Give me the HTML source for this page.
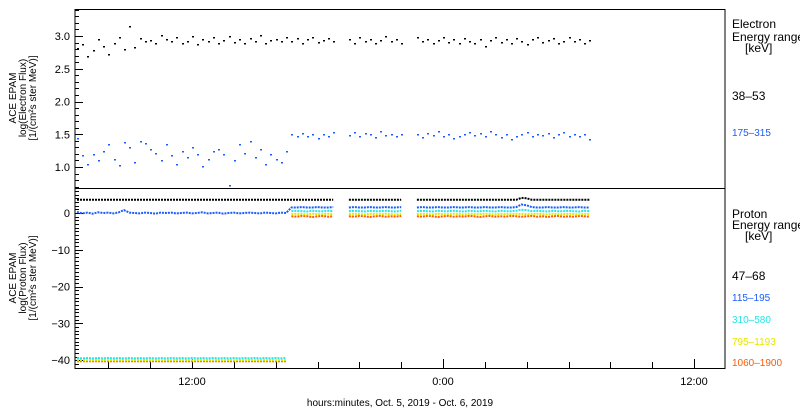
<!DOCTYPE html>
<html><head><meta charset="utf-8"><style>
body{margin:0;background:#fff;}
svg{display:block;font-family:"Liberation Sans",sans-serif;}
</style></head><body>
<svg id="chart" width="800" height="410" viewBox="0 0 800 410" xmlns="http://www.w3.org/2000/svg">
<rect x="0" y="0" width="800" height="410" fill="#fff"/>
<g id="axes"></g>
<g id="marks"></g>
<g font-size="10" text-anchor="middle">
<text transform="translate(16,98) rotate(-90)">ACE EPAM</text>
<text transform="translate(26,98) rotate(-90)">log(Electron Flux)</text>
<text transform="translate(36,98) rotate(-90)">[1/(cm²s ster MeV)]</text>
</g>
<g font-size="10" text-anchor="middle">
<text transform="translate(16,278) rotate(-90)">ACE EPAM</text>
<text transform="translate(26,278) rotate(-90)">log(Proton Flux)</text>
<text transform="translate(36,278) rotate(-90)">[1/(cm²s ster MeV)]</text>
</g>
<g font-size="12">
<text x="732" y="28">Electron</text>
<text x="732" y="41">Energy range</text>
<text x="745" y="52">[keV]</text>
<text x="732" y="100">38–53</text>
<text x="732" y="136" font-size="10" fill="#1a5cff">175–315</text>
</g>
<g font-size="12">
<text x="732" y="218">Proton</text>
<text x="732" y="229">Energy range</text>
<text x="745" y="240">[keV]</text>
<text x="732" y="280">47–68</text>
<text x="732" y="301" font-size="10" fill="#1a5cff">115–195</text>
<text x="732" y="323" font-size="10" fill="#22e6e6">310–580</text>
<text x="732" y="345" font-size="10" fill="#e6e600">795–1193</text>
<text x="732" y="366" font-size="10" fill="#ff5a00">1060–1900</text>
</g>
<text x="400" y="406" font-size="10" text-anchor="middle">hours:minutes, Oct.  5, 2019 - Oct.  6, 2019</text>
</svg>
<script>
const startHour = 6.5, stepHour = 0.25;
const xTickHours = [8,10,12,14,16,18,20,22,24,26,28,30,32,34,36];
const xTickLabels = [{h:12,l:"12:00"},{h:24,l:"0:00"},{h:36,l:"12:00"}];
const elecTicks = [1.0,1.5,2.0,2.5,3.0];
const protTicks = [0,-10,-20,-30,-40];
const elec38 = [
2.82,2.88,2.70,2.78,2.95,2.85,2.72,2.90,2.98,2.80,
3.15,2.83,2.97,2.92,2.94,2.90,3.01,2.95,2.92,2.98,
2.90,2.93,3.00,2.88,2.95,2.92,2.98,2.90,2.94,3.00,
2.91,2.95,2.89,2.97,2.93,3.01,2.90,2.94,2.96,2.92,
2.99,2.93,2.97,2.90,2.95,2.99,2.91,2.94,2.97,2.92,
null,null,2.95,2.90,2.98,2.93,2.96,2.89,2.94,3.00,
2.92,2.95,2.90,null,null,2.99,2.93,2.96,2.90,2.94,
2.98,2.91,2.95,2.89,2.97,2.93,2.90,2.96,2.84,2.94,
2.98,2.91,2.95,2.90,2.97,2.92,2.88,2.95,2.99,2.91,
2.94,2.97,2.90,2.93,2.98,2.92,2.95,2.90,2.94];
const elec175 = [
1.45,1.18,1.05,1.20,1.10,1.25,1.35,1.12,1.03,1.38,
1.30,1.08,1.40,1.36,1.28,1.22,1.10,1.35,1.18,1.05,
1.25,1.15,1.30,1.20,1.02,1.12,1.24,1.28,1.20,0.72,
1.10,1.35,1.22,1.40,1.15,1.28,1.05,1.20,1.12,1.08,
1.25,1.50,1.48,1.52,1.47,1.50,1.45,1.51,1.48,1.53,
null,null,1.49,1.54,1.47,1.52,1.50,1.46,1.55,1.49,
1.51,1.47,1.50,null,null,1.50,1.46,1.52,1.49,1.55,
1.48,1.51,1.44,1.47,1.50,1.53,1.49,1.52,1.48,1.55,
1.50,1.46,1.51,1.42,1.48,1.50,1.53,1.47,1.51,1.49,
1.52,1.46,1.50,1.53,1.48,1.51,1.47,1.50,1.43];
const prot47 = [
3.6,3.6,3.6,3.6,3.6,3.6,3.6,3.6,3.6,3.6,
3.6,3.6,3.6,3.6,3.6,3.6,3.6,3.6,3.6,3.6,
3.6,3.6,3.6,3.6,3.6,3.6,3.6,3.6,3.6,3.6,
3.6,3.6,3.6,3.6,3.6,3.6,3.6,3.6,3.6,3.6,
3.6,3.6,3.6,3.6,3.6,3.6,3.6,3.6,3.6,3.6,
null,null,3.6,3.6,3.6,3.6,3.6,3.6,3.6,3.6,
3.6,3.6,3.6,null,null,3.6,3.6,3.6,3.6,3.6,
3.6,3.6,3.6,3.6,3.6,3.6,3.6,3.6,3.6,3.6,
3.6,3.6,3.6,3.6,3.6,4.1,4.0,3.6,3.6,3.6,
3.6,3.6,3.6,3.6,3.6,3.6,3.6,3.6,3.6];
const prot115 = [
0.3,-0.1,0.1,-0.2,0.2,0.0,0.1,-0.1,0.2,0.8,
0.1,0.0,-0.1,0.1,0.0,-0.2,0.1,0.0,0.1,-0.1,
0.0,0.1,-0.1,0.0,0.2,-0.1,0.0,0.1,-0.2,0.0,
0.1,-0.1,0.0,0.1,0.0,-0.1,0.1,0.0,-0.1,0.1,
0.0,1.5,1.5,1.6,1.5,1.5,1.6,1.5,1.5,1.6,
null,null,1.5,1.6,1.5,1.5,1.6,1.5,1.5,1.6,
1.5,1.5,1.6,null,null,1.5,1.6,1.5,1.5,1.6,
1.5,1.5,1.6,1.5,1.5,1.6,1.5,1.5,1.6,1.5,
1.5,1.6,1.5,1.5,1.6,2.3,2.1,1.6,1.5,1.5,
1.6,1.5,1.5,1.6,1.5,1.5,1.6,1.5,1.5];
const prot310 = [
-39.4,-39.5,-39.4,-39.5,-39.4,-39.5,-39.4,-39.5,-39.4,-39.5,
-39.4,-39.5,-39.4,-39.5,-39.4,-39.5,-39.4,-39.5,-39.4,-39.5,
-39.4,-39.5,-39.4,-39.5,-39.4,-39.5,-39.4,-39.5,-39.4,-39.5,
-39.4,-39.5,-39.4,-39.5,-39.4,-39.5,-39.4,-39.5,-39.4,-39.5,
-39.4,0.5,0.6,0.5,0.4,0.6,0.5,0.5,0.6,0.5,
null,null,0.5,0.6,0.5,0.4,0.6,0.5,0.5,0.6,
0.5,0.4,0.6,null,null,0.5,0.6,0.5,0.4,0.6,
0.5,0.5,0.6,0.5,0.4,0.6,0.5,0.5,0.6,0.5,
0.4,0.6,0.5,0.5,0.6,0.9,0.8,0.5,0.6,0.5,
0.4,0.6,0.5,0.5,0.6,0.5,0.4,0.6,0.5];
const prot795 = [
-40.0,-40.0,-40.0,-40.0,-40.0,-40.0,-40.0,-40.0,-40.0,-40.0,
-40.0,-40.0,-40.0,-40.0,-40.0,-40.0,-40.0,-40.0,-40.0,-40.0,
-40.0,-40.0,-40.0,-40.0,-40.0,-40.0,-40.0,-40.0,-40.0,-40.0,
-40.0,-40.0,-40.0,-40.0,-40.0,-40.0,-40.0,-40.0,-40.0,-40.0,
-40.0,-0.3,-0.2,-0.3,-0.4,-0.2,-0.3,-0.3,-0.2,-0.3,
null,null,-0.3,-0.2,-0.3,-0.4,-0.2,-0.3,-0.3,-0.2,
-0.3,-0.4,-0.2,null,null,-0.3,-0.2,-0.3,-0.4,-0.2,
-0.3,-0.3,-0.2,-0.3,-0.4,-0.2,-0.3,-0.3,-0.2,-0.3,
-0.4,-0.2,-0.3,-0.3,-0.2,-0.3,-0.3,-0.3,-0.2,-0.3,
-0.4,-0.2,-0.3,-0.3,-0.2,-0.3,-0.4,-0.2,-0.3];
const prot1060 = [
-40.3,-40.3,-40.3,-40.3,-40.3,-40.3,-40.3,-40.3,-40.3,-40.3,
-40.3,-40.3,-40.3,-40.3,-40.3,-40.3,-40.3,-40.3,-40.3,-40.3,
-40.3,-40.3,-40.3,-40.3,-40.3,-40.3,-40.3,-40.3,-40.3,-40.3,
-40.3,-40.3,-40.3,-40.3,-40.3,-40.3,-40.3,-40.3,-40.3,-40.3,
-40.3,-0.9,-1.0,-0.8,-0.9,-1.1,-0.9,-0.8,-1.0,-0.9,
null,null,-0.9,-1.0,-0.8,-0.9,-1.1,-0.9,-0.8,-1.0,
-0.9,-1.0,-0.8,null,null,-0.9,-1.0,-0.8,-0.9,-1.1,
-0.9,-0.8,-1.0,-0.9,-1.0,-0.8,-0.9,-1.1,-0.9,-0.8,
-1.0,-0.9,-1.0,-0.8,-0.9,-1.0,-0.9,-0.8,-1.0,-0.9,
-1.1,-0.9,-0.8,-1.0,-0.9,-1.0,-0.8,-0.9,-1.0];

const NS="http://www.w3.org/2000/svg";
const X0=75,X1=725;
const xScale=h=>192+(h-12)*(251/12);
const yE=v=>36+(3.0-v)*65.5;
const yP=v=>213-v*3.68;
const axes=document.getElementById('axes'), marks=document.getElementById('marks');
function mk(tag,parent){const e=document.createElementNS(NS,tag);parent.appendChild(e);return e;}
function line(p,x1,y1,x2,y2,w){const l=mk('line',p);l.setAttribute('x1',x1);l.setAttribute('y1',y1);l.setAttribute('x2',x2);l.setAttribute('y2',y2);l.setAttribute('stroke','#000');l.setAttribute('stroke-width',w||1);return l;}

const f1=mk('rect',axes);


f1.setAttribute('x',X0);f1.setAttribute('y',9.5);f1.setAttribute('width',X1-X0);f1.setAttribute('height',179);f1.setAttribute('fill','none');f1.setAttribute('stroke','#000');
const f2=mk('rect',axes);


f2.setAttribute('x',X0);f2.setAttribute('y',188.5);f2.setAttribute('width',X1-X0);f2.setAttribute('height',180);f2.setAttribute('fill','none');f2.setAttribute('stroke','#000');

// electron y ticks
for(let k=7;k<=34;k++){const v=k/10;const y=Math.round(yE(v))+0.5;if(y<10||y>188)continue;const major=(k%5===0);line(axes,X0,y,X0+(major?8:4),y);}
elecTicks.forEach(v=>{const t=mk('text',axes);


t.setAttribute('x',70);t.setAttribute('y',yE(v)+4);t.setAttribute('text-anchor','end');t.setAttribute('font-size','11');t.textContent=v.toFixed(1);});
// proton y ticks
for(let v=-42;v<=6;v++){const y=Math.round(yP(v))+0.5;if(y<189||y>368)continue;const major=(v%10===0);line(axes,X0,y,X0+(major?8:4),y);}
protTicks.forEach(v=>{const t=mk('text',axes);


t.setAttribute('x',70);t.setAttribute('y',yP(v)+4);t.setAttribute('text-anchor','end');t.setAttribute('font-size','11');t.textContent=v===0?'0':'−'+Math.abs(v);});
// x ticks
xTickHours.forEach(h=>{const x=Math.round(xScale(h))+0.5;if(x<=X0||x>=X1)return;const major=(h%12===0);line(axes,x,368,x,368-(major?9:6));});
xTickLabels.forEach(o=>{const t=mk('text',axes);


t.setAttribute('x',xScale(o.h));t.setAttribute('y',385);t.setAttribute('text-anchor','middle');t.setAttribute('font-size','11');t.textContent=o.l;});

function dots(arr,yf,color,name){const g=mk('g',marks);


arr.forEach((v,i)=>{if(v===null)return;const r=mk('rect',g);r.setAttribute('x',Math.round(xScale(startHour+stepHour*i)));r.setAttribute('y',Math.round(yf(v)));r.setAttribute('width',2);r.setAttribute('height',1.5);r.setAttribute('fill',color);});}
function lines(arr,yf,color,name){const g=mk('g',marks);


let pts=[];const flush=()=>{if(pts.length>1){const p=mk('polyline',g);p.setAttribute('points',pts.join(' '));p.setAttribute('fill','none');p.setAttribute('stroke',color);p.setAttribute('stroke-width',2);p.setAttribute('stroke-dasharray','2 1');}pts=[];};
arr.forEach((v,i)=>{if(v===null){flush();return;}const pv=i>0?arr[i-1]:null;if(pv!==null&&Math.abs(v-pv)>10)flush();pts.push(xScale(startHour+stepHour*i).toFixed(1)+','+yf(v).toFixed(1));});flush();}

dots(elec38,yE,'#000','electron-38-53-series');
dots(elec175,yE,'#1a5cff','electron-175-315-series');
lines(prot1060,yP,'#ff5a00','proton-1060-1900-series');
lines(prot795,yP,'#e6e600','proton-795-1193-series');
lines(prot310,yP,'#22e6e6','proton-310-580-series');
lines(prot115,yP,'#1a5cff','proton-115-195-series');
lines(prot47,yP,'#000','proton-47-68-series');
</script>
</body></html>
